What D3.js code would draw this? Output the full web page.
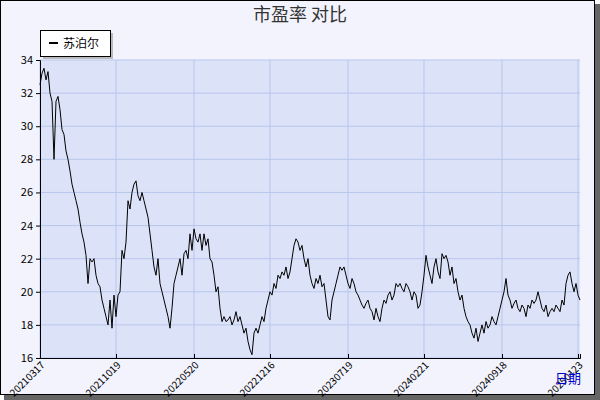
<!DOCTYPE html>
<html>
<head>
<meta charset="utf-8">
<script src="https://cdn.jsdelivr.net/npm/d3@7"></script>
<style>
  body { margin: 0; background: #fff; }
  text { font-family: "Noto Sans CJK SC", "DejaVu Sans", sans-serif; }
</style>
</head>
<body>
<svg id="chart" width="600" height="400"></svg>
<script>
// PE values, one per sample point
const peValues = [
  32.5, 33.2, 33.5, 32.8, 33.3, 32, 31.5, 28, 31.5, 31.8,
  31, 29.8, 29.5, 28.5, 28, 27.3, 26.5, 26, 25.5, 25,
  24.2, 23.5, 23, 22.2, 20.5, 22, 21.8, 22, 21, 20.5,
  20.3, 19.5, 19, 18.5, 18, 19.5, 17.8, 19.8, 18.5, 19.8,
  20, 22.5, 22, 23, 25.5, 25, 26, 26.5, 26.7, 25.8,
  25.5, 26, 25.5, 25, 24.5, 23.5, 22.5, 21.5, 21, 22,
  20.5, 20, 19.5, 19, 18.5, 17.8, 19, 20.5, 21, 21.5,
  22, 21, 22.3, 22.5, 22, 23.5, 22.5, 23.8, 23.2, 23,
  23.5, 22.5, 23.5, 22.8, 23.2, 22, 21.8, 21, 20, 20.3,
  19, 18.2, 18.5, 18.2, 18.3, 18.5, 18, 18.3, 18.8, 18.2,
  18.5, 18, 17.5, 17.8, 17, 16.5, 16.2, 17.5, 17.8, 17.5,
  18, 18.5, 18.2, 19, 19.5, 20, 19.8, 20.5, 20.2, 21,
  20.8, 21.2, 21, 21.5, 20.8, 21.2, 22, 22.8, 23.2, 23,
  22.5, 22.8, 22, 21.5, 22, 21, 20.5, 20.2, 20.8, 20.5,
  21, 20.3, 20.5, 19.5, 18.5, 18.3, 19.5, 20, 20.5, 21,
  21.5, 21.3, 21.5, 21, 20.5, 20.2, 20.8, 20.5, 20, 19.8,
  19.5, 19.2, 19, 19.3, 19.5, 19, 18.8, 18.3, 19, 18.5,
  18.2, 19, 19.5, 19.3, 19.8, 20, 19.5, 19.8, 20.5, 20.3,
  20.5, 20.2, 20, 20.5, 20.3, 20, 19.5, 20, 19.8, 19,
  19.2, 20, 21, 22.2, 21.5, 21, 20.5, 21.5, 22, 21.2,
  20.8, 22.3, 22, 22.2, 21.8, 21, 21.5, 20.5, 20.8, 20,
  19.5, 19.8, 19, 18.5, 18.2, 18, 17.5, 17.2, 17.8, 17,
  17.5, 18, 17.5, 18.2, 17.8, 18, 18.5, 18.2, 18, 18.5,
  19, 19.5, 20, 20.8, 19.8, 19.5, 19, 19.3, 19.5, 19,
  18.8, 19.2, 19, 18.5, 19.2, 19, 19.5, 19.3, 19.5, 20,
  19.5, 19, 18.8, 19.2, 18.5, 18.8, 19, 18.8, 19.2, 19,
  18.8, 19.5, 19.2, 20.5, 21, 21.2, 20.5, 20, 20.5, 19.8,
  19.5
];
const tickIndex = [0, 38, 77, 115, 154, 192, 231, 269];
const tickLabels = ['20210317', '20211019', '20220520', '20221216', '20230719', '20240221', '20240918', '20250123'];
const yTicks = [16, 18, 20, 22, 24, 26, 28, 30, 32, 34];
const seriesName = '苏泊尔';

const svg = d3.select('#chart');
const margin = {top: 60, left: 40, right: 20, bottom: 42};
const width = 600, height = 400;
const innerW = width - margin.left - margin.right;
const innerH = height - margin.top - margin.bottom;

// outer frame with shadow
svg.append('rect').attr('x', 4).attr('y', 4).attr('width', 596).attr('height', 396).attr('fill', '#666');
svg.append('rect').attr('x', 0.5).attr('y', 0.5).attr('width', 594).attr('height', 394)
  .attr('fill', '#f2f3fc').attr('stroke', '#000');

svg.append('text').attr('x', 300).attr('y', 21).attr('text-anchor', 'middle')
  .attr('font-size', 18).attr('fill', '#333').text('市盈率  对比');

const x = d3.scaleLinear().domain([0, peValues.length - 1]).range([0, innerW]);
const y = d3.scaleLinear().domain([16, 34]).range([innerH, 0]);

const g = svg.append('g').attr('transform', `translate(${margin.left},${margin.top})`);
g.append('rect').attr('width', innerW).attr('height', innerH).attr('fill', '#dce2f7');

// grid
g.selectAll('.hg').data(yTicks).join('line')
  .attr('x1', 0).attr('x2', innerW).attr('y1', d => y(d)).attr('y2', d => y(d))
  .attr('stroke', '#b9c6ec');
g.selectAll('.vg').data(tickIndex).join('line')
  .attr('x1', d => x(d)).attr('x2', d => x(d)).attr('y1', 0).attr('y2', innerH)
  .attr('stroke', '#b9c6ec');

// line
g.append('path').datum(peValues)
  .attr('fill', 'none').attr('stroke', '#000').attr('stroke-width', 1)
  .attr('d', d3.line().x((d, i) => x(i)).y(d => y(d)));

// axes
const yAxis = g.append('g').call(d3.axisLeft(y).tickValues(yTicks).tickSize(4).tickFormat(d3.format('d')));
yAxis.selectAll('text').attr('font-size', 11).attr('fill', '#000');
const xAxis = g.append('g').attr('transform', `translate(0,${innerH})`)
  .call(d3.axisBottom(x).tickValues(tickIndex).tickSize(-4).tickFormat((d, i) => tickLabels[i]));
xAxis.selectAll('text').attr('font-size', 10).attr('fill', '#000')
  .style('text-anchor', 'end').attr('dx', '-2').attr('dy', '6')
  .attr('transform', 'rotate(-45)');
xAxis.select('.domain').attr('stroke', '#000');
yAxis.select('.domain').attr('stroke', '#000');

svg.append('text').attr('x', 568).attr('y', 383).attr('text-anchor', 'middle')
  .attr('font-size', 13).attr('fill', '#0000cc').text('日期');

// legend
svg.append('rect').attr('x', 43).attr('y', 33).attr('width', 70).attr('height', 26).attr('fill', '#bbb');
svg.append('rect').attr('x', 40.5).attr('y', 30.5).attr('width', 70).attr('height', 26)
  .attr('fill', '#fff').attr('stroke', '#000');
svg.append('line').attr('x1', 49).attr('x2', 58).attr('y1', 43).attr('y2', 43).attr('stroke', '#000').attr('stroke-width', 2);
svg.append('text').attr('x', 63).attr('y', 48).attr('font-size', 12).text(seriesName);
</script>
</body>
</html>
